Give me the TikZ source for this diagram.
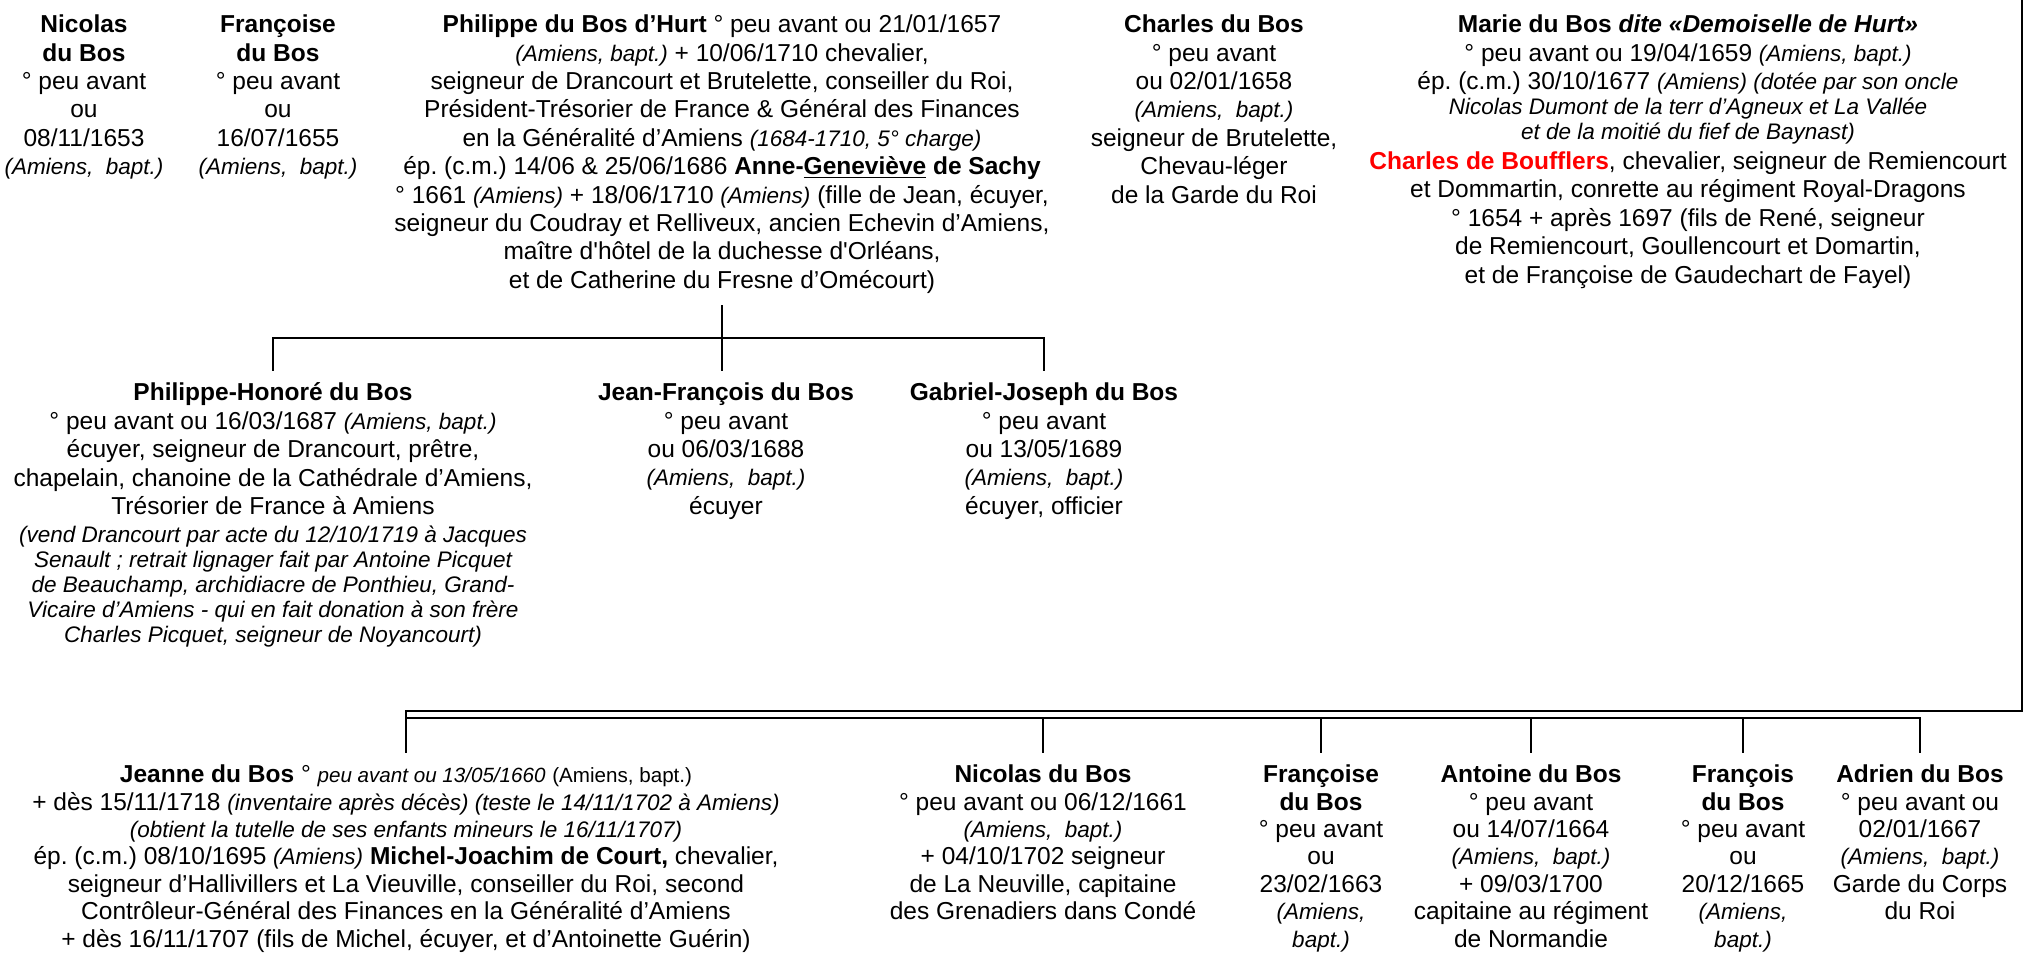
\documentclass[tikz,border=0pt]{standalone}
\usepackage{fontspec}
\setmainfont{Liberation Sans}
\usetikzlibrary{positioning}
\frenchspacing

% small italic remarks and the smaller upright text
\newcommand{\smit}[1]{{\fontsize{11.25}{13}\selectfont\itshape #1}}
\newcommand{\smrm}[1]{{\fontsize{10.3}{12}\selectfont #1}}

\begin{document}
\begin{tikzpicture}[
    x=0.5pt, y=-0.5pt,
    % one block of text per person
    person/.style={align=center, anchor=north, inner sep=0pt, outer sep=6pt,
        font=\fontsize{12.25}{14.2}\selectfont},
    % the bottom row is set a little tighter
    lower/.style={person, font=\fontsize{12.25}{13.7}\selectfont},
    % lines of the family tree
    tree/.style={line width=1.4pt}
]
\useasboundingbox (0,0) rectangle (2026,956);

% ==================== ROW 1: ELDER CHILDREN ====================
\node[person] (nicolas1) at (84,3) {\textbf{Nicolas}\\\textbf{du Bos}\\° peu avant\\ou\\08/11/1653\\\smit{(Amiens,\ \ bapt.)}};
\node[person] (francoise1) at (278,3) {\textbf{Françoise}\\\textbf{du Bos}\\° peu avant\\ou\\16/07/1655\\\smit{(Amiens,\ \ bapt.)}};
\node[person] (philippe) at (722,3) {\textbf{Philippe du Bos d’Hurt} ° peu avant ou 21/01/1657\\
    \smit{(Amiens, bapt.)} + 10/06/1710 chevalier,\\
    seigneur de Drancourt et Brutelette, conseiller du Roi,\\
    Président-Trésorier de France \& Général des Finances\\
    en la Généralité d’Amiens \smit{(1684-1710, 5° charge)}\\
    ép. (c.m.) 14/06 \& 25/06/1686 \textbf{Anne-\underline{Geneviève} de Sachy}\\
    ° 1661 \smit{(Amiens)} + 18/06/1710 \smit{(Amiens)} (fille de Jean, écuyer,\\
    seigneur du Coudray et Relliveux, ancien Echevin d’Amiens,\\
    maître d\textquotesingle hôtel de la duchesse d\textquotesingle Orléans,\\
    et de Catherine du Fresne d’Omécourt)};
\node[person] (charles) at (1214,3) {\textbf{Charles du Bos}\\° peu avant\\ou 02/01/1658\\\smit{(Amiens,\ \ bapt.)}\\seigneur de Brutelette,\\Chevau-léger\\de la Garde du Roi};
\node[person] (marie) at (1688,3) {\textbf{Marie du Bos \textit{dite «Demoiselle de Hurt»}}\\
    ° peu avant ou 19/04/1659 \smit{(Amiens, bapt.)}\\
    ép. (c.m.) 30/10/1677 \smit{(Amiens) (dotée par son oncle}\\[-1.7pt]
    \smit{Nicolas Dumont de la terr d’Agneux et La Vallée}\\[-1.7pt]
    \smit{et de la moitié du fief de Baynast)}\\[0.8pt]
    \textcolor{red}{\textbf{Charles de Boufflers}}, chevalier, seigneur de Remiencourt\\
    et Dommartin, conrette au régiment Royal-Dragons\\
    ° 1654 + après 1697 (fils de René, seigneur\\
    de Remiencourt, Goullencourt et Domartin,\\
    et de Françoise de Gaudechart de Fayel)};

% ==================== ROW 2: CHILDREN OF PHILIPPE ====================
\node[person] (honore) at (273,371) {\textbf{Philippe-Honoré du Bos}\\
    ° peu avant ou 16/03/1687 \smit{(Amiens, bapt.)}\\
    écuyer, seigneur de Drancourt, prêtre,\\
    chapelain, chanoine de la Cathédrale d’Amiens,\\
    Trésorier de France à Amiens\\
    \smit{(vend Drancourt par acte du 12/10/1719 à Jacques}\\[-1.7pt]
    \smit{Senault ; retrait lignager fait par Antoine Picquet}\\[-1.7pt]
    \smit{de Beauchamp, archidiacre de Ponthieu, Grand-}\\[-1.7pt]
    \smit{Vicaire d’Amiens - qui en fait donation à son frère}\\[-1.7pt]
    \smit{Charles Picquet, seigneur de Noyancourt)}};
\node[person] (jeanfr) at (726,371) {\textbf{Jean-François du Bos}\\° peu avant\\ou 06/03/1688\\\smit{(Amiens,\ \ bapt.)}\\écuyer};
\node[person] (gabriel) at (1044,371) {\textbf{Gabriel-Joseph du Bos}\\° peu avant\\ou 13/05/1689\\\smit{(Amiens,\ \ bapt.)}\\écuyer, officier};

% ==================== ROW 3: YOUNGER CHILDREN ====================
\node[lower] (jeanne) at (406,753) {\textbf{Jeanne du Bos} ° \smrm{\itshape peu avant ou 13/05/1660} \smrm{(Amiens, bapt.)}\\
    + dès 15/11/1718 \smit{(inventaire après décès) (teste le 14/11/1702 à Amiens)}\\
    \smit{(obtient la tutelle de ses enfants mineurs le 16/11/1707)}\\
    ép. (c.m.) 08/10/1695 \smit{(Amiens)} \textbf{Michel-Joachim de Court,} chevalier,\\
    seigneur d’Hallivillers et La Vieuville, conseiller du Roi, second\\
    Contrôleur-Général des Finances en la Généralité d’Amiens\\
    + dès 16/11/1707 (fils de Michel, écuyer, et d’Antoinette Guérin)};
\node[lower] (nicolas2) at (1043,753) {\textbf{Nicolas du Bos}\\° peu avant ou 06/12/1661\\\smit{(Amiens,\ \ bapt.)}\\+ 04/10/1702 seigneur\\de La Neuville, capitaine\\des Grenadiers dans Condé};
\node[lower] (francoise2) at (1321,753) {\textbf{Françoise}\\\textbf{du Bos}\\° peu avant\\ou\\23/02/1663\\\smit{(Amiens,}\\\smit{bapt.)}};
\node[lower] (antoine) at (1531,753) {\textbf{Antoine du Bos}\\° peu avant\\ou 14/07/1664\\\smit{(Amiens,\ \ bapt.)}\\+ 09/03/1700\\capitaine au régiment\\de Normandie};
\node[lower] (francois) at (1743,753) {\textbf{François}\\\textbf{du Bos}\\° peu avant\\ou\\20/12/1665\\\smit{(Amiens,}\\\smit{bapt.)}};
\node[lower] (adrien) at (1920,753) {\textbf{Adrien du Bos}\\° peu avant ou\\02/01/1667\\\smit{(Amiens,\ \ bapt.)}\\Garde du Corps\\du Roi};

% ==================== CONNECTIONS ====================
% Philippe to his children
\coordinate (bar1) at (722,338);
\draw[tree] (philippe.south) -- (bar1);
\draw[tree] (honore.north) |- (bar1) -| (gabriel.north);
\draw[tree] (bar1) -- (bar1 |- jeanfr.north);

% siblings line coming down on the right
\coordinate (sibtop) at (2022,0);
\coordinate (bar2) at (406,711);
\coordinate (bar3) at (406,718);
\draw[tree] (sibtop) |- (bar2) -- (jeanne.north);
\draw[tree] (bar3) -| (adrien.north);
\foreach \n in {nicolas2, francoise2, antoine, francois}
    \draw[tree] (\n.north |- bar3) -- (\n.north);

\end{tikzpicture}
\end{document}
